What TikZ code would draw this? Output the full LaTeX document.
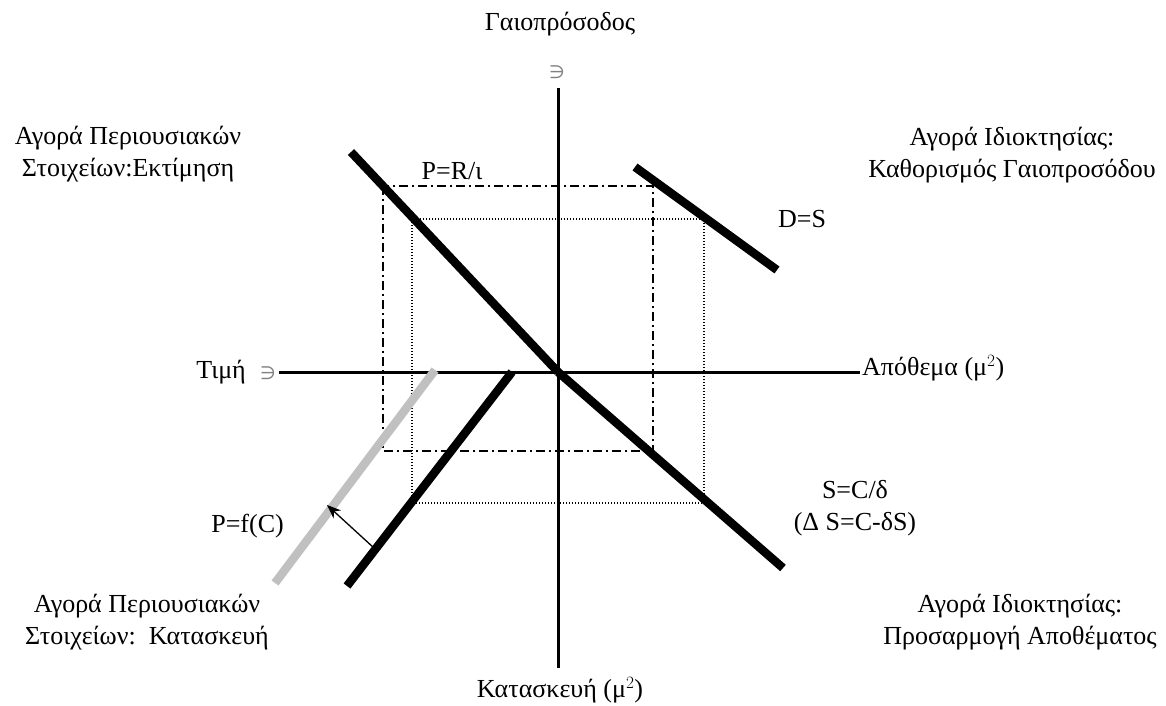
\documentclass[tikz,border=0pt]{standalone}
\usepackage{fontspec}
\usetikzlibrary{arrows.meta}
\setmainfont{Liberation Serif}
\newfontfamily\symfont{DejaVu Sans}
\definecolor{lightgr}{HTML}{C0C0C0}
\definecolor{eurogr}{HTML}{808080}
\begin{document}
\begin{tikzpicture}[x=1pt,y=-1pt,
  lbl/.style={font=\fontsize{26}{32}\selectfont, inner sep=0pt, align=center},
  axis/.style={line width=3pt, black},
  curve/.style={line width=8.5pt, black},
  shifted/.style={line width=8.5pt, lightgr},
  dashdot/.style={line width=1.4pt, dash pattern=on 9pt off 4pt on 2pt off 4pt},
  dotline/.style={line width=1.4pt, dash pattern=on 1.4pt off 1.6pt},
  eur/.style={font=\symfont\fontsize{18}{18}\selectfont, text=eurogr, inner sep=0pt}]
\useasboundingbox (0,0) rectangle (1166,706);
% reference rectangles
\draw[dashdot] (383,186) rectangle (653,451);
\draw[dotline] (412,219) rectangle (704,503);
% axes
\coordinate (O) at (558,372);
\coordinate (xl) at (279,372);
\coordinate (xr) at (860,372);
\coordinate (yt) at (558,88);
\coordinate (yb) at (558,668);
\draw[axis] (xl) -- (xr);
\draw[axis] (yt) -- (yb);
% curves
\coordinate (v1) at (351,152);
\coordinate (s2) at (783,568);
\coordinate (d1) at (635,167);
\coordinate (d2) at (777,270);
\coordinate (c1) at (512,372);
\coordinate (c2) at (347,586);
\coordinate (g1) at (435,370);
\coordinate (g2) at (275,583);
\draw[shifted] (g1) -- (g2);
\draw[curve] (v1) -- (O);
\draw[curve] (O) -- (s2);
\draw[curve] (d1) -- (d2);
\draw[curve] (c1) -- (c2);
\coordinate (a1) at (374,548);
\coordinate (a2) at (327,505);
\draw[line width=1.3pt, -{Stealth[length=14pt,width=11pt]}] (a1) -- (a2);
% labels
\node[lbl] (tl) at (560,24) {Γαιοπρόσοδος};
\node[eur] (e1) at (557,72) {∋};
\node[lbl, anchor=east] (price) at (246,372) {Τιμή};
\node[eur] (e2) at (268,373) {∋};
\node[lbl, anchor=west] (stock) at (862,368) {Απόθεμα (μ$^{2}$)};
\node[lbl] (constr) at (560,690) {Κατασκευή (μ$^{2}$)};
\node[lbl] (q2) at (128,154) {Αγορά Περιουσιακών\\Στοιχείων:Εκτίμηση};
\node[lbl] (q1) at (1012,155) {Αγορά Ιδιοκτησίας:\\Καθορισμός Γαιοπροσόδου};
\node[lbl] (q3) at (147,622) {Αγορά Περιουσιακών\\Στοιχείων:\ \ Κατασκευή};
\node[lbl] (q4) at (1020,622) {Αγορά Ιδιοκτησίας:\\Προσαρμογή Αποθέματος};
\node[lbl] (pr) at (452,171) {P=R/ι};
\node[lbl, anchor=west] (ds) at (778,219) {D=S};
\node[lbl] (scd) at (855,508) {S=C/δ\\(Δ S=C-δS)};
\node[lbl, anchor=east] (pfc) at (284,526) {P=f(C)};
\end{tikzpicture}
\end{document}
